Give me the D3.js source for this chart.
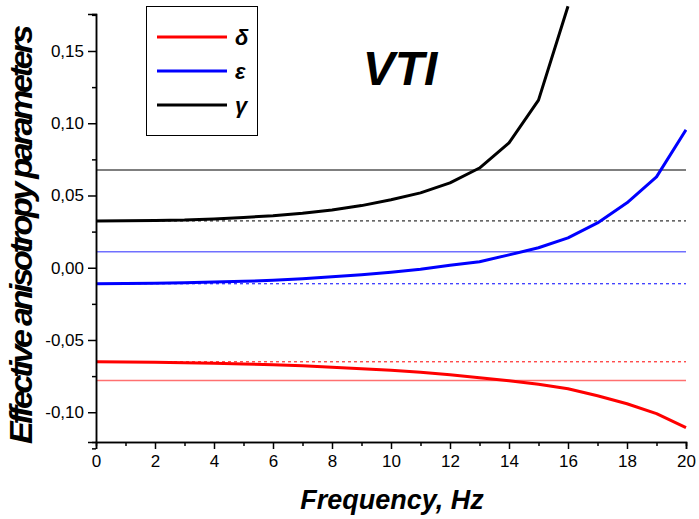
<!DOCTYPE html>
<html>
<head>
<meta charset="utf-8">
<script src="https://cdn.jsdelivr.net/npm/d3@7"></script>
<style>
body{margin:0;background:#fff;}
text{font-family:"Liberation Sans",Arial,sans-serif;}
</style>
</head>
<body>
<div class="chart"></div>
<script>
// data
const freq = [0,1,2,3,4,5,6,7,8,9,10,11,12,13,14,15,16,17,18,19,20];
const delta = [-0.0651,-0.0652,-0.0654,-0.0657,-0.0661,-0.0666,-0.0671,-0.0679,-0.0689,-0.0699,-0.0710,-0.0724,-0.0740,-0.0761,-0.0782,-0.0806,-0.0837,-0.0886,-0.0941,-0.1010,-0.1107];
const epsilon = [-0.0110,-0.0109,-0.0108,-0.0104,-0.0098,-0.0094,-0.0087,-0.0077,-0.0063,-0.0049,-0.0032,-0.0011,0.0017,0.0041,0.0089,0.0138,0.0207,0.0310,0.0449,0.0629,0.0954];
const gamma = [0.0324,0.0325,0.0327,0.0330,0.0338,0.0348,0.0360,0.0377,0.0400,0.0430,0.0470,0.0518,0.0587,0.0690,0.0864,0.1160,0.1810];
const seriesNames = ["δ","ε","γ"];
const initialLevel = [-0.0651,-0.0111,0.0324];   // dotted lines
const effectiveLevel = [-0.0780,0.0110,0.0676];  // thin solid lines
const yTicks = [-0.10,-0.05,0.00,0.05,0.10,0.15];
const xTicks = [0,2,4,6,8,10,12,14,16,18,20];

const W = 699, H = 519;
const colors = ["#ff0000","#0000ff","#000000"];
const lightColors = ["#ff7070","#7070ff","#555555"];

const svg = d3.select(".chart").append("svg")
    .attr("width", W)
    .attr("height", H);

const x = d3.scaleLinear().domain([0,20]).range([96,686]);
const y = d3.scaleLinear().domain([-0.1206,0.1756]).range([442,14]);

const loc = d3.formatLocale({decimal:",", thousands:".", grouping:[3], currency:["",""], minus:"-"});
const fmt = loc.format(".2f");

svg.append("clipPath").attr("id","clip")
    .append("rect").attr("x",96).attr("y",5).attr("width",591).attr("height",437);

const plot = svg.append("g").attr("clip-path","url(#clip)");

// reference levels
plot.selectAll(".eff")
    .data(effectiveLevel)
    .enter().append("line")
    .attr("x1",x(0)).attr("x2",x(20))
    .attr("y1",d=>y(d)).attr("y2",d=>y(d))
    .attr("stroke",(d,i)=>lightColors[i])
    .attr("stroke-width",1.5);

plot.selectAll(".ini")
    .data(initialLevel)
    .enter().append("line")
    .attr("x1",x(0)).attr("x2",x(20))
    .attr("y1",d=>y(d)).attr("y2",d=>y(d))
    .attr("stroke",(d,i)=>colors[i])
    .attr("stroke-width",1)
    .attr("stroke-dasharray","3,3");

const line = d3.line()
    .x((d,i)=>x(freq[i]))
    .y(d=>y(d));

[delta,epsilon,gamma].forEach((s,i)=>{
    plot.append("path")
        .datum(s)
        .attr("fill","none")
        .attr("stroke",colors[i])
        .attr("stroke-width",3)
        .attr("stroke-linejoin","round")
        .attr("d",line);
});

// axes
const yAxis = d3.axisLeft(y).tickValues(yTicks).tickFormat(fmt).tickSize(8).tickPadding(4);
const yMinor = d3.axisLeft(y).tickValues([-0.125,-0.075,-0.025,0.025,0.075,0.125,0.175]).tickFormat("").tickSize(4);
const xAxis = d3.axisBottom(x).tickValues(xTicks).tickFormat(d3.format("d")).tickSize(7).tickPadding(6);
const xMinor = d3.axisBottom(x).tickValues(d3.range(1,20,2)).tickFormat("").tickSize(4);

svg.append("g").attr("transform","translate(96,0)").call(yAxis);
svg.append("g").attr("transform","translate(96,0)").call(yMinor);
svg.append("g").attr("transform","translate(0,442)").call(xAxis);
svg.append("g").attr("transform","translate(0,442)").call(xMinor);

svg.selectAll(".domain").attr("stroke","#000").attr("stroke-width",1.5);
svg.selectAll(".tick line").attr("stroke","#000").attr("stroke-width",1.5);
svg.selectAll(".tick text")
    .attr("font-family","'Liberation Sans',Arial,sans-serif")
    .attr("font-size",17)
    .attr("fill","#000");

// titles
svg.append("text")
    .attr("x",392).attr("y",509)
    .attr("text-anchor","middle")
    .attr("font-size",27)
    .attr("font-weight","bold")
    .attr("font-style","italic")
    .text("Frequency, Hz");

// the original label is squeezed so the letters overlap
svg.append("text")
    .attr("transform","translate(32,236) rotate(-90)")
    .attr("text-anchor","middle")
    .attr("font-size",31)
    .attr("font-weight","bold")
    .attr("font-style","italic")
    .attr("textLength",416)
    .attr("lengthAdjust","spacingAndGlyphs")
    .attr("letter-spacing",-3)
    .text("Effective anisotropy parameters");

svg.append("text")
    .attr("x",400).attr("y",85)
    .attr("text-anchor","middle")
    .attr("font-size",48)
    .attr("font-weight","bold")
    .attr("font-style","italic")
    .text("VTI");

// legend
const legend = svg.append("g");
legend.append("rect")
    .attr("x",146.5).attr("y",6.5)
    .attr("width",111).attr("height",129)
    .attr("fill","#fff").attr("stroke","#000").attr("stroke-width",1);

legend.selectAll(".legend-line")
    .data(seriesNames)
    .enter().append("line")
    .attr("x1",157).attr("x2",227)
    .attr("y1",(d,i)=>37+i*34).attr("y2",(d,i)=>37+i*34)
    .attr("stroke",(d,i)=>colors[i])
    .attr("stroke-width",3);

legend.selectAll(".legend-label")
    .data(seriesNames)
    .enter().append("text")
    .attr("x",235)
    .attr("y",(d,i)=>37+i*34)
    .attr("dy","0.35em")
    .attr("font-size",22)
    .attr("font-weight","bold")
    .attr("font-style","italic")
    .text(d=>d);
</script>
</body>
</html>
